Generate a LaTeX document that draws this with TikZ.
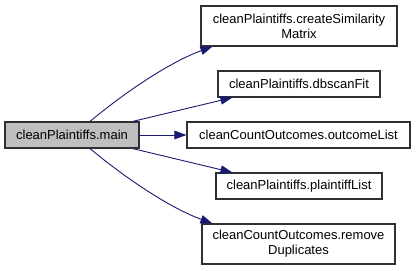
\documentclass[tikz,border=0pt]{standalone}
\usepackage{fontspec}
\setmainfont{Liberation Sans}
\usetikzlibrary{calc,arrows.meta}
\definecolor{edgeblue}{RGB}{25,25,112}
\definecolor{mainfill}{RGB}{191,191,191}
\definecolor{boxline}{RGB}{48,48,48}
\begin{document}
\begin{tikzpicture}[x=1pt,y=-1pt,
  fn/.style={draw=boxline, line width=1.1pt, fill=white, inner sep=0pt,
    align=center, font=\fontsize{13}{15}\selectfont},
  call/.style={draw=edgeblue, line width=0.9pt,
    -{Triangle[length=12pt,width=8.5pt,fill=edgeblue]}}]
  \useasboundingbox (0,0) rectangle (416,271);
  \fill[white] (0,0) rectangle (416,271);

  \node[fn, fill=mainfill, minimum width=134pt, minimum height=26pt] (main) at (72,135) {cleanPlaintiffs.main};
  \node[fn, minimum width=196pt, minimum height=40pt] (sim) at (299,26) {cleanPlaintiffs.createSimilarity\\Matrix};
  \node[fn, minimum width=162pt, minimum height=26pt] (dbs) at (299,84) {cleanPlaintiffs.dbscanFit};
  \node[fn, minimum width=223pt, minimum height=26pt] (out) at (298.5,135) {cleanCountOutcomes.outcomeList};
  \node[fn, minimum width=166pt, minimum height=26pt] (pl) at (299,186) {cleanPlaintiffs.plaintiffList};
  \node[fn, minimum width=193pt, minimum height=40pt] (dup) at (298.5,244) {cleanCountOutcomes.remove\\Duplicates};

  \draw[call] ($(main.north)+(18,0)$) .. controls (118,98) and (165,64) .. ($(sim.south west)+(12,0)$);
  \draw[call] ($(main.north east)+(-7,0)$) -- ($(dbs.south west)+(15,0)$);
  \draw[call] (main.east) -- (out.west);
  \draw[call] ($(main.south east)+(-7,0)$) -- ($(pl.north west)+(17,0)$);
  \draw[call] ($(main.south)+(18,0)$) .. controls (118,172) and (165,206) .. ($(dup.north west)+(11,0)$);
\end{tikzpicture}
\end{document}
